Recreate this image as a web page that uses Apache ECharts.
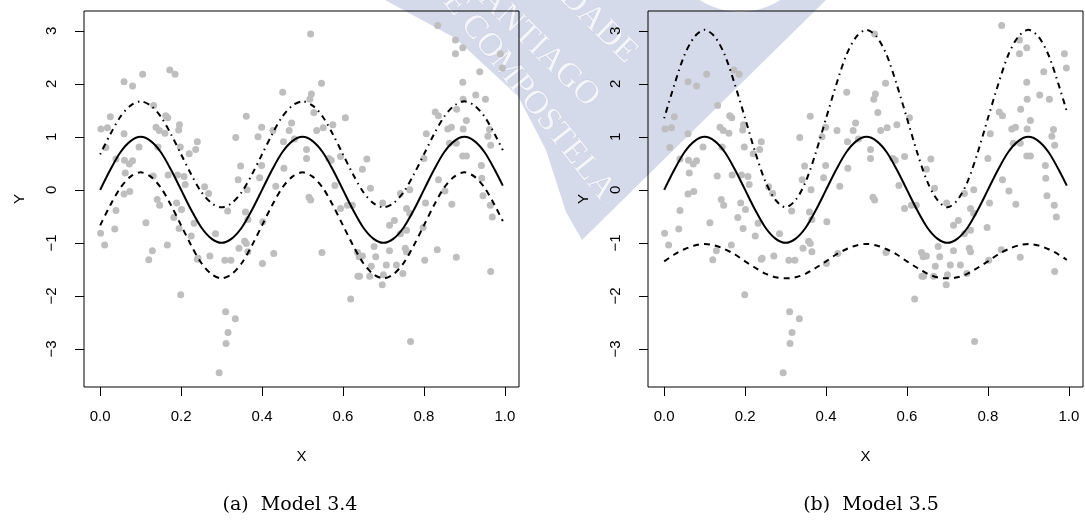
<!DOCTYPE html>
<html><head><meta charset="utf-8">
<script src="https://cdn.jsdelivr.net/npm/echarts@6/dist/echarts.min.js"></script>
<style>html,body{margin:0;padding:0;background:#fff}#c{width:1085px;height:520px}</style>
</head><body><div id="c"></div>
<script>
// ---- data ----
const xGrid = [0, 0.025, 0.05, 0.075, 0.1, 0.125, 0.15, 0.175, 0.2, 0.225, 0.25, 0.275, 0.3, 0.325, 0.35, 0.375,
  0.4, 0.425, 0.45, 0.475, 0.5, 0.525, 0.55, 0.575, 0.6, 0.625, 0.65, 0.675, 0.7, 0.725, 0.75, 0.775,
  0.8, 0.825, 0.85, 0.875, 0.9, 0.925, 0.95, 0.975, 0.995];
const meanCurve = [0, 0.38, 0.71, 0.92, 1, 0.92, 0.71, 0.38, 0, -0.38, -0.71, -0.92, -1, -0.92, -0.71, -0.38,
  0, 0.38, 0.71, 0.92, 1, 0.92, 0.71, 0.38, 0, -0.38, -0.71, -0.92, -1, -0.92, -0.71, -0.38,
  0, 0.38, 0.71, 0.92, 1, 0.92, 0.71, 0.38, 0.08];
const upperA = [0.67, 1.05, 1.38, 1.59, 1.67, 1.59, 1.38, 1.05, 0.67, 0.29, -0.04, -0.25, -0.33, -0.25, -0.04, 0.29,
  0.67, 1.05, 1.38, 1.59, 1.67, 1.59, 1.38, 1.05, 0.67, 0.29, -0.04, -0.25, -0.33, -0.25, -0.04, 0.29,
  0.67, 1.05, 1.38, 1.59, 1.67, 1.59, 1.38, 1.05, 0.75];
const lowerA = [-0.67, -0.29, 0.04, 0.25, 0.33, 0.25, 0.04, -0.29, -0.67, -1.05, -1.38, -1.59, -1.67, -1.59, -1.38, -1.05,
  -0.67, -0.29, 0.04, 0.25, 0.33, 0.25, 0.04, -0.29, -0.67, -1.05, -1.38, -1.59, -1.67, -1.59, -1.38, -1.05,
  -0.67, -0.29, 0.04, 0.25, 0.33, 0.25, 0.04, -0.29, -0.59];
const upperB = [1.35, 1.98, 2.54, 2.89, 3.02, 2.89, 2.54, 1.98, 1.35, 0.71, 0.16, -0.19, -0.33, -0.19, 0.16, 0.71,
  1.35, 1.98, 2.54, 2.89, 3.02, 2.89, 2.54, 1.98, 1.35, 0.71, 0.16, -0.19, -0.33, -0.19, 0.16, 0.71,
  1.35, 1.98, 2.54, 2.89, 3.02, 2.89, 2.54, 1.98, 1.48];
const lowerB = [-1.35, -1.22, -1.12, -1.05, -1.02, -1.05, -1.12, -1.22, -1.35, -1.47, -1.58, -1.65, -1.67, -1.65, -1.58, -1.47,
  -1.35, -1.22, -1.12, -1.05, -1.02, -1.05, -1.12, -1.22, -1.35, -1.47, -1.58, -1.65, -1.67, -1.65, -1.58, -1.47,
  -1.35, -1.22, -1.12, -1.05, -1.02, -1.05, -1.12, -1.22, -1.32];
const obsX = [0.105, 0.059, 0.080, 0.172, 0.185, 0.025, 0.132, 0.162, 0.167, 0.002, 0.018, 0.138, 0.146, 0.196, 0.194, 0.059, 0.160,
  0.014, 0.096, 0.143, 0.198, 0.236, 0.220, 0.039, 0.060, 0.072, 0.080, 0.062, 0.131, 0.168, 0.191, 0.207, 0.210,
  0.059, 0.073, 0.141, 0.147, 0.189, 0.201, 0.039, 0.182, 0.113, 0.232, 0.036, 0.001, 0.195, 0.225, 0.011, 0.166,
  0.129, 0.120, 0.240, 0.199,
  0.520, 0.547, 0.451, 0.522, 0.518, 0.361, 0.528, 0.473, 0.399, 0.427, 0.467, 0.535, 0.551, 0.575, 0.606,
  0.335, 0.390, 0.453, 0.240, 0.480, 0.510, 0.510, 0.347, 0.399, 0.454, 0.394, 0.341, 0.258, 0.268, 0.363, 0.434,
  0.516, 0.520, 0.565, 0.571, 0.594, 0.580, 0.315, 0.359, 0.365, 0.402, 0.594, 0.611, 0.623, 0.285, 0.357, 0.361,
  0.343, 0.365, 0.429, 0.548, 0.271, 0.242, 0.308, 0.323, 0.401, 0.636, 0.640, 0.310, 0.334, 0.316, 0.311, 0.294,
  0.637, 0.619,
  0.834, 0.878, 0.896, 0.878, 0.989, 0.994, 0.938, 0.896, 0.928, 0.952, 0.897, 0.828, 0.836, 0.881, 0.905, 0.859,
  0.868, 0.897, 0.962, 0.806, 0.863, 0.880, 0.958, 0.965, 0.659, 0.648, 0.896, 0.905, 0.942, 0.800, 0.836, 0.943,
  0.765, 0.742, 0.668, 0.852, 0.698, 0.804, 0.869, 0.946, 0.964, 0.969, 0.757, 0.765, 0.727, 0.715, 0.757, 0.742,
  0.798, 0.677, 0.715, 0.754, 0.757, 0.833, 0.802, 0.880, 0.648, 0.681, 0.707, 0.732, 0.670, 0.666, 0.641, 0.700,
  0.697, 0.748, 0.965, 0.767];
const obsY = [2.18, 2.04, 1.96, 2.26, 2.18, 1.38, 1.59, 1.40, 1.36, 1.15, 1.17, 1.18, 1.12, 1.23, 1.13, 1.06, 1.07,
  0.80, 0.81, 0.81, 0.81, 0.76, 0.68, 0.58, 0.56, 0.49, 0.55, 0.32, 0.26, 0.28, 0.28, 0.25, 0.10,
  -0.08, -0.03, -0.18, -0.29, -0.25, -0.37, -0.39, -0.52, -0.62, -0.63, -0.74, -0.82, -0.73, -0.87, -1.04, -1.04,
  -1.15, -1.32, -1.31, -1.98,
  2.94, 2.01, 1.84, 1.81, 1.71, 1.39, 1.46, 1.26, 1.18, 1.12, 1.12, 1.12, 1.17, 1.23, 1.36,
  0.99, 1.00, 0.91, 0.91, 0.96, 0.76, 0.59, 0.45, 0.46, 0.41, 0.23, 0.19, 0.06, -0.07, 0.00, 0.07,
  -0.14, -0.19, 0.59, 0.56, 0.63, 0.08, -0.40, -0.42, -0.56, -0.60, -0.35, -0.29, -0.29, -0.83, -0.97, -1.01,
  -1.10, -1.17, -1.20, -1.18, -1.25, -1.29, -1.33, -1.33, -1.39, -1.18, -1.26, -2.30, -2.43, -2.69, -2.90, -3.45,
  -1.63, -2.06,
  3.10, 2.83, 2.68, 2.57, 2.57, 2.30, 2.23, 2.03, 1.79, 1.71, 1.71, 1.47, 1.40, 1.52, 1.31, 1.15,
  1.18, 1.15, 1.14, 1.06, 0.88, 0.88, 1.01, 0.84, 0.58, 0.39, 0.64, 0.64, 0.46, 0.59, 0.19, 0.22,
  0.00, -0.07, 0.03, -0.02, -0.25, -0.25, -0.27, -0.11, -0.29, -0.51, -0.35, -0.44, -0.58, -0.67, -0.76, -0.83,
  -0.71, -1.07, -1.15, -1.10, -1.17, -1.13, -1.33, -1.27, -1.25, -1.26, -1.42, -1.42, -1.44, -1.63, -1.63, -1.60,
  -1.79, -1.58, -1.54, -2.86];
const xTicks = [0, 0.2, 0.4, 0.6, 0.8, 1.0];
const yTicks = [-3, -2, -1, 0, 1, 2, 3];
const captions = ['(a)  Model 3.4', '(b)  Model 3.5'];
const axisTitles = ['X', 'Y'];
const watermarkLines = ['UNIVERSIDADE', 'DE SANTIAGO', 'DE COMPOSTELA'];

// ---- chart ----
const chart = echarts.init(document.getElementById('c'), null, {renderer: 'canvas'});
const FONT = 'Liberation Sans';
const pts = obsX.map((x, i) => [x, obsY[i]]);
const curve = arr => xGrid.map((x, i) => [x, arr[i]]);
const grids = [
  {left: 84, top: 11, width: 435, height: 376},
  {left: 648, top: 11, width: 435, height: 376}
];
function xAx(gi) {
  return {type: 'value', gridIndex: gi, min: -0.04, max: 1.035,
    name: axisTitles[0], nameLocation: 'middle', nameGap: 62,
    nameTextStyle: {fontFamily: FONT, fontSize: 15, color: '#000'},
    axisLine: {show: false, onZero: false}, splitLine: {show: false},
    axisTick: {show: true, inside: false, length: 9, customValues: xTicks, lineStyle: {color: '#000', width: 1}},
    axisLabel: {customValues: xTicks, formatter: v => v.toFixed(1), margin: 22,
      fontFamily: FONT, fontSize: 15, color: '#000'}};
}
function yAx(gi) {
  return {type: 'value', gridIndex: gi, min: -3.72, max: 3.375,
    name: axisTitles[1], nameLocation: 'middle', nameGap: 57, nameRotate: 90,
    nameTextStyle: {fontFamily: FONT, fontSize: 15, color: '#000'},
    axisLine: {show: false, onZero: false}, splitLine: {show: false},
    axisTick: {show: true, inside: false, length: 9, customValues: yTicks, lineStyle: {color: '#000', width: 1}},
    axisLabel: {customValues: yTicks, rotate: 90, margin: 25,
      formatter: v => (v < 0 ? '\u2212' + Math.abs(v) : String(v)),
      fontFamily: FONT, fontSize: 15, color: '#000'}};
}
const lineBase = (gi, data, type, z) => ({type: 'line', xAxisIndex: gi, yAxisIndex: gi, data: data,
  smooth: 0.3, showSymbol: false, symbol: 'none', silent: true, z: z,
  lineStyle: {color: '#000', width: 2, type: type}});
const series = [];
[0, 1].forEach(gi => {
  series.push({type: 'scatter', xAxisIndex: gi, yAxisIndex: gi, data: pts, symbolSize: 7,
    itemStyle: {color: '#BEBEBE', opacity: 1}, z: 2, silent: true});
  series.push(lineBase(gi, curve(meanCurve), 'solid', 4));
  series.push(lineBase(gi, curve(gi === 0 ? upperA : upperB), [1.5, 4.5, 6, 4.5], 4));
  series.push(lineBase(gi, curve(gi === 0 ? lowerA : lowerB), [6, 5], 4));
});
const wmFont = '34px "Liberation Serif"';
const wmText = (t, x, y, rot) => ({type: 'text', x: x, y: y, rotation: rot, z: -8, silent: true,
  style: {text: t, fill: 'rgba(255,255,255,0.75)', font: wmFont, align: 'right', verticalAlign: 'middle',
    stroke: '#C2C9DF', lineWidth: 0.8}});
chart.setOption({
  animation: false,
  backgroundColor: 'transparent',
  graphic: {elements: [
    {type: 'polygon', z: -10, silent: true,
      shape: {points: [[385, 0], [826, 0], [582, 240], [566, 212], [546, 150], [518, 96], [455, 38]]},
      style: {fill: '#D5DAEA'}},
    {type: 'circle', z: -9, silent: true, shape: {cx: 740, cy: -62, r: 74}, style: {fill: '#FFFFFF'}},
    wmText(watermarkLines[0], 632, 58, -0.78),
    wmText(watermarkLines[1], 594, 102, -0.78),
    wmText(watermarkLines[2], 608, 196, -0.9)
  ]},
  grid: grids.map(g => Object.assign({show: true, borderColor: '#000', borderWidth: 1,
    backgroundColor: 'transparent', containLabel: false}, g)),
  xAxis: [xAx(0), xAx(1)],
  yAxis: [yAx(0), yAx(1)],
  title: [
    {text: captions[0], left: 285, top: 491, textAlign: 'center',
      textStyle: {fontFamily: 'DejaVu Serif', fontSize: 19, fontWeight: 'normal', color: '#000'}},
    {text: captions[1], left: 866, top: 491, textAlign: 'center',
      textStyle: {fontFamily: 'DejaVu Serif', fontSize: 19, fontWeight: 'normal', color: '#000'}}
  ],
  series: series
});
</script></body></html>
